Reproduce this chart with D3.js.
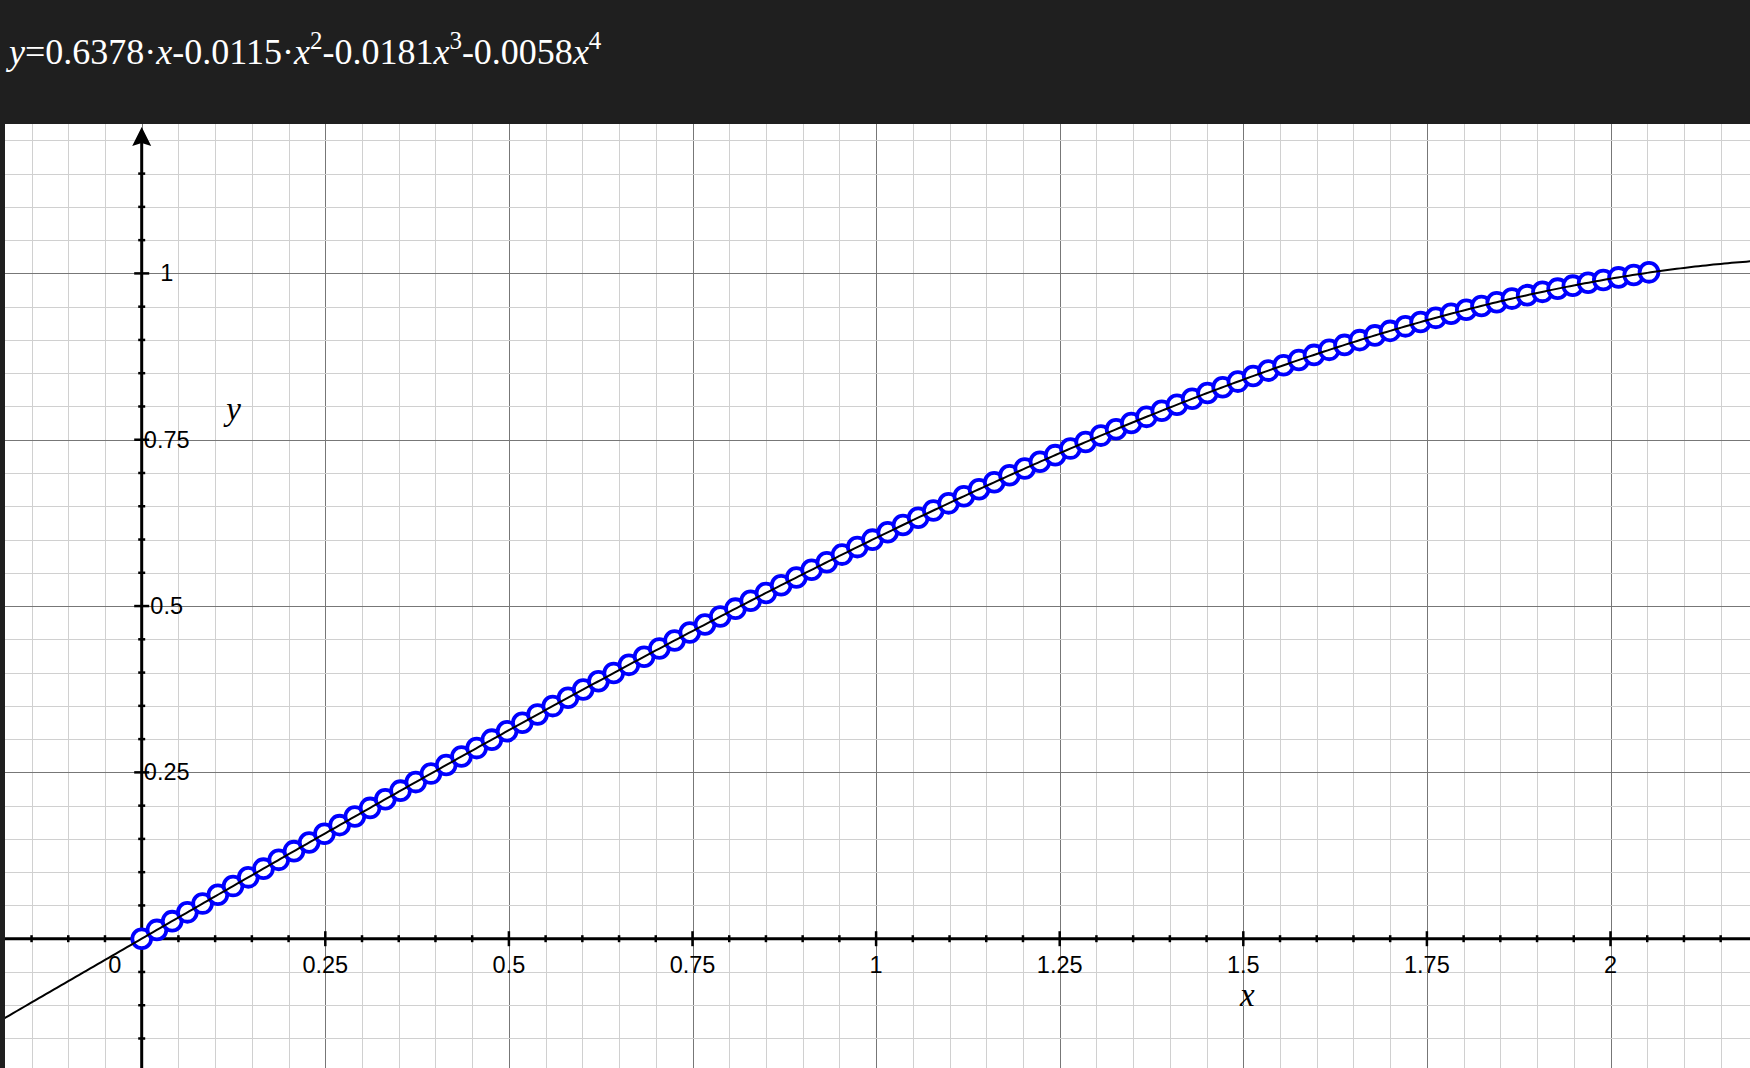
<!DOCTYPE html>
<html>
<head>
<meta charset="utf-8">
<script src="https://cdn.jsdelivr.net/npm/d3@7"></script>
<style>
html,body{margin:0;padding:0;background:#fff;}
svg{display:block;}
</style>
</head>
<body>
<svg id="chart" width="1750" height="1068"></svg>
<script>
// ---------- data ----------
const pointX = [0,0.0207,0.0415,0.0622,0.0829,0.1037,0.1244,0.1451,0.1658,0.1866,
0.2073,0.2280,0.2488,0.2695,0.2902,0.3110,0.3317,0.3524,0.3732,0.3939,
0.4146,0.4354,0.4561,0.4768,0.4975,0.5183,0.5390,0.5597,0.5805,0.6012,
0.6219,0.6427,0.6634,0.6841,0.7049,0.7256,0.7463,0.7670,0.7878,0.8085,
0.8292,0.8500,0.8707,0.8914,0.9122,0.9329,0.9536,0.9744,0.9951,1.0158,
1.0366,1.0573,1.0780,1.0987,1.1195,1.1402,1.1609,1.1817,1.2024,1.2231,
1.2439,1.2646,1.2853,1.3061,1.3268,1.3475,1.3682,1.3890,1.4097,1.4304,
1.4512,1.4719,1.4926,1.5134,1.5341,1.5548,1.5756,1.5963,1.6170,1.6378,
1.6585,1.6792,1.6999,1.7207,1.7414,1.7621,1.7829,1.8036,1.8243,1.8451,
1.8658,1.8865,1.9073,1.9280,1.9487,1.9695,1.9902,2.0109,2.0316,2.0524];
const pointY = [0,0.0132,0.0264,0.0396,0.0528,0.0660,0.0791,0.0922,0.1053,0.1185,
0.1316,0.1446,0.1577,0.1707,0.1836,0.1966,0.2096,0.2225,0.2354,0.2482,
0.2610,0.2738,0.2865,0.2992,0.3119,0.3245,0.3371,0.3496,0.3622,0.3746,
0.3870,0.3994,0.4116,0.4239,0.4361,0.4482,0.4603,0.4723,0.4842,0.4961,
0.5079,0.5197,0.5313,0.5429,0.5545,0.5659,0.5773,0.5886,0.5998,0.6109,
0.6219,0.6328,0.6437,0.6544,0.6651,0.6756,0.6861,0.6965,0.7067,0.7168,
0.7268,0.7367,0.7465,0.7562,0.7657,0.7751,0.7844,0.7936,0.8026,0.8115,
0.8203,0.8289,0.8374,0.8457,0.8539,0.8619,0.8698,0.8775,0.8851,0.8925,
0.8997,0.9068,0.9136,0.9204,0.9269,0.9332,0.9394,0.9454,0.9511,0.9567,
0.9621,0.9673,0.9723,0.9771,0.9816,0.9860,0.9901,0.9940,0.9977,1.0016];
// fitted curve y = c1*x + c2*x^2 + c3*x^3 + c4*x^4 (from the title)
const coefficients = [0, 0.6378, -0.0115, -0.0181, -0.0058];
const xTickValues = [0.25,0.5,0.75,1,1.25,1.5,1.75,2];
const xTickLabels = ["0.25","0.5","0.75","1","1.25","1.5","1.75","2"];
const yTickValues = [0.25,0.5,0.75,1];
const yTickLabels = ["0.25","0.5","0.75","1"];
const originLabel = "0";
const titleParts = [
  {t:"y", it:true},{t:"=0.6378·"},{t:"x", it:true},{t:"-0.0115·"},
  {t:"x", it:true},{t:"2", sup:true},{t:"-0.0181"},{t:"x", it:true},
  {t:"3", sup:true},{t:"-0.0058"},{t:"x", it:true},{t:"4", sup:true}];
const xAxisTitle = "x", yAxisTitle = "y";

// ---------- layout ----------
const W = 1750, H = 1068, TOP = 124;
const x = d3.scaleLinear().domain([0,1]).range([141.7, 876.1]);
const y = d3.scaleLinear().domain([0,1]).range([938.7, 273.4]);
const svg = d3.select("#chart");

svg.append("rect").attr("width",W).attr("height",H).attr("fill","#fff");
svg.append("defs").append("clipPath").attr("id","plotclip")
  .append("rect").attr("x",0).attr("y",TOP).attr("width",W).attr("height",H-TOP);
const plot = svg.append("g").attr("clip-path","url(#plotclip)");

// grid
const step = 0.05;
const xi = d3.range(-3, 48), yi = d3.range(-4, 26);
const grid = plot.append("g").attr("shape-rendering","crispEdges");
grid.selectAll(".vx").data(xi).join("line")
  .attr("x1",i=>Math.round(x(i*step))+0.5).attr("x2",i=>Math.round(x(i*step))+0.5)
  .attr("y1",TOP).attr("y2",H)
  .attr("stroke",i=>i%5===0?"#777":"#d0d0d0").attr("stroke-width",1);
grid.selectAll(".hy").data(yi).join("line")
  .attr("y1",i=>Math.round(y(i*step))+0.5).attr("y2",i=>Math.round(y(i*step))+0.5)
  .attr("x1",0).attr("x2",W)
  .attr("stroke",i=>i%5===0?"#777":"#d0d0d0").attr("stroke-width",1);

// axes
const ax = plot.append("g");
ax.append("line").attr("x1",0).attr("x2",W).attr("y1",y(0)).attr("y2",y(0))
  .attr("stroke","#000").attr("stroke-width",3);
ax.append("line").attr("x1",x(0)).attr("x2",x(0)).attr("y1",H).attr("y2",TOP+14)
  .attr("stroke","#000").attr("stroke-width",3);
ax.append("path")
  .attr("d",`M${x(0)},${TOP+3} L${x(0)-9.5},${TOP+22} L${x(0)},${TOP+19} L${x(0)+9.5},${TOP+22} Z`)
  .attr("fill","#000");
// ticks
ax.selectAll(".tx").data(xi.filter(i=>i!==0)).join("line")
  .attr("x1",i=>x(i*step)).attr("x2",i=>x(i*step))
  .attr("y1",i=>y(0)-(i%5===0?7.5:3.5)).attr("y2",i=>y(0)+(i%5===0?7.5:3.5))
  .attr("stroke","#000").attr("stroke-width",2.5);
ax.selectAll(".ty").data(yi.filter(i=>i!==0 && i<=23)).join("line")
  .attr("y1",i=>y(i*step)).attr("y2",i=>y(i*step))
  .attr("x1",i=>x(0)-(i%5===0?7.5:3.5)).attr("x2",i=>x(0)+(i%5===0?7.5:3.5))
  .attr("stroke","#000").attr("stroke-width",2.5);

// tick labels
const lblFont = "Liberation Sans, Arial, Helvetica, sans-serif";
const LS = 23.5;
ax.selectAll(".lx").data(xTickValues).join("text")
  .attr("x",d=>x(d)).attr("y",y(0)+34).attr("text-anchor","middle")
  .attr("font-family",lblFont).attr("font-size",LS).attr("fill","#000")
  .text((d,i)=>xTickLabels[i]);
ax.append("text").attr("x",x(0)-27).attr("y",y(0)+34).attr("text-anchor","middle")
  .attr("font-family",lblFont).attr("font-size",LS).text(originLabel);
ax.selectAll(".ly").data(yTickValues).join("text")
  .attr("x",x(0)+25).attr("y",d=>y(d)+8).attr("text-anchor","middle")
  .attr("font-family",lblFont).attr("font-size",LS).attr("fill","#000")
  .text((d,i)=>yTickLabels[i]);

// axis titles
const serif = "Liberation Serif, Times New Roman, serif";
ax.append("text").attr("x",x(0)+92).attr("y",y(0.78)+0).attr("text-anchor","middle")
  .attr("font-family",serif).attr("font-style","italic").attr("font-size",33).text(yAxisTitle);
ax.append("text").attr("x",x(1.5)+4).attr("y",y(0)+67).attr("text-anchor","middle")
  .attr("font-family",serif).attr("font-style","italic").attr("font-size",33).text(xAxisTitle);

// points
plot.append("g").selectAll("circle").data(pointX).join("circle")
  .attr("cx",d=>x(d)).attr("cy",(d,i)=>y(pointY[i])).attr("r",9.4)
  .attr("fill","#fff").attr("stroke","#0000ff").attr("stroke-width",3.8);

// fitted curve
const poly = v => coefficients.reduce((s,c,k)=>s+c*Math.pow(v,k),0);
const xs = d3.range(-0.25, 2.45, 0.005);
plot.append("path").datum(xs)
  .attr("d", d3.line().x(v=>x(v)).y(v=>y(poly(v))))
  .attr("fill","none").attr("stroke","#000").attr("stroke-width",2);

// title bar and left border
svg.append("rect").attr("x",0).attr("y",0).attr("width",W).attr("height",TOP).attr("fill","#1f1f1f");
svg.append("rect").attr("x",0).attr("y",0).attr("width",5).attr("height",H).attr("fill","#1f1f1f");
const title = svg.append("text").attr("x",9).attr("y",64)
  .attr("font-family",serif).attr("font-size",36).attr("fill","#fff");
let raised = false;
titleParts.forEach(p=>{
  const ts = title.append("tspan").text(p.t);
  if (p.it) ts.attr("font-style","italic");
  if (p.sup) { ts.attr("font-size",25).attr("dy",-15); raised = true; }
  else if (raised) { ts.attr("dy",15); raised = false; }
});
</script>
</body>
</html>
